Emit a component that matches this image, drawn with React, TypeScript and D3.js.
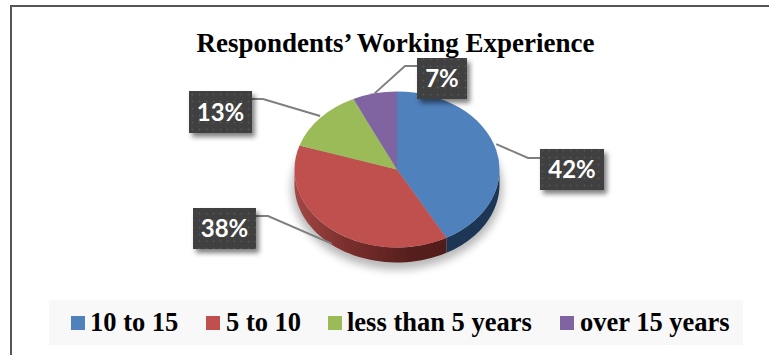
import React from "react";
import * as d3 from "d3";

const categories = ["10 to 15", "5 to 10", "less than 5 years", "over 15 years"];
const shares = [42, 38, 13, 7];
const topColors = ["#4f81bd", "#c0504d", "#9bbb59", "#8064a2"];
const sideFills = ["#1d3655", "url(#redSide)", "#5d7035", "#4c3b61"];
const chartTitle = "Respondents’ Working Experience";

const WIDTH = 769;
const HEIGHT = 355;
const CX = 397;
const CY = 169.5;
const RX = 102.5;
const RY = 78;
const DEPTH = 15;

// Callout box and elbow geometry per slice: box rect, elbow x, elbow y, box side the leader enters.
const callouts = [
  { x: 540, y: 149, w: 64, h: 41, elbowX: 528, lineY: 158, side: "left", drop: -6 },
  { x: 193, y: 208, w: 63, h: 41, elbowX: 268, lineY: 216, side: "right", drop: DEPTH - 1 },
  { x: 189, y: 91, w: 63, h: 42, elbowX: 263, lineY: 99, side: "right", drop: -2 },
  { x: 417, y: 58, w: 50, h: 41, elbowX: 405, lineY: 66, side: "left", drop: 0 },
];

// Legend entries: swatch left edge and text left edge.
const legendSwatchX = [71, 206, 328, 560];
const legendTextX = [90, 226, 347, 580];

const pieGen = d3.pie<number>().sort(null).value((d) => d);
const slices = pieGen(shares);

const arcGen = d3
  .arc<d3.PieArcDatum<number>>()
  .innerRadius(0)
  .outerRadius(1);

// Maps a clockwise-from-top angle onto the tilted rim of the disc.
const rim = (a: number, dy = 0): [number, number] => [
  CX + RX * Math.sin(a),
  CY - RY * Math.cos(a) + dy,
];

// Outer wall of one slice, limited to the half of the rim that faces the viewer.
function wallPath(start: number, end: number): string | null {
  const a0 = Math.max(start, Math.PI / 2);
  const a1 = Math.min(end, (3 * Math.PI) / 2);
  if (a1 <= a0) return null;
  const steps = d3.range(0, 41).map((i) => a0 + ((a1 - a0) * i) / 40);
  const upper = steps.map((a) => rim(a));
  const lower = steps.map((a) => rim(a, DEPTH)).reverse();
  return d3.line()([...upper, ...lower]) + "Z";
}

export default function App() {
  return (
    <svg
      width={WIDTH}
      height={HEIGHT}
      viewBox={`0 0 ${WIDTH} ${HEIGHT}`}
      style={{ position: "absolute", left: 0, top: 0, background: "#fff" }}
    >
      <defs>
        <linearGradient id="redSide" gradientUnits="userSpaceOnUse" x1={CX - RX} x2={CX + 60} y1="0" y2="0">
          <stop offset="0" stopColor="#a34845" />
          <stop offset="0.3" stopColor="#7d302e" />
          <stop offset="0.7" stopColor="#561f1d" />
          <stop offset="1" stopColor="#4f1c1a" />
        </linearGradient>
        <filter id="discShadow" x="-30%" y="-30%" width="160%" height="160%">
          <feGaussianBlur stdDeviation="4" />
        </filter>
        <filter id="boxShadow" x="-30%" y="-30%" width="170%" height="170%">
          <feDropShadow dx="3" dy="4" stdDeviation="2.5" floodColor="#000" floodOpacity="0.5" />
        </filter>
        <pattern id="boxDots" width="7" height="7" patternUnits="userSpaceOnUse">
          <rect width="7" height="7" fill="#3f3f3f" />
          <circle cx="3.5" cy="3.5" r="1" fill="#565656" />
        </pattern>
      </defs>

      {/* frame: only the top and left rules are visible */}
      <path d={`M11 355V6H${WIDTH}`} fill="none" stroke="#555" strokeWidth={2} />

      <text
        x={395.5}
        y={52}
        textAnchor="middle"
        fontFamily="'Liberation Serif', serif"
        fontWeight="bold"
        fontSize={27}
        fill="#000"
      >
        {chartTitle}
      </text>

      {/* soft shadow under the disc */}
      <ellipse
        cx={CX}
        cy={CY + DEPTH + 4}
        rx={RX + 3}
        ry={RY + 3}
        fill="#000"
        opacity={0.28}
        filter="url(#discShadow)"
      />

      {/* walls */}
      {slices.map((s, i) => {
        const d = wallPath(s.startAngle, s.endAngle);
        return d ? <path key={i} d={d} fill={sideFills[i]} /> : null;
      })}

      {/* top face: a unit pie squashed into an ellipse */}
      <g transform={`translate(${CX},${CY}) scale(${RX},${RY})`}>
        {slices.map((s, i) => (
          <path key={i} d={arcGen(s) as string} fill={topColors[i]} />
        ))}
      </g>

      {/* leaders */}
      {slices.map((s, i) => {
        const c = callouts[i];
        const mid = (s.startAngle + s.endAngle) / 2;
        const [ax, ay] = rim(mid, c.drop);
        const boxEdge = c.side === "left" ? c.x : c.x + c.w;
        return (
          <path
            key={i}
            d={d3.line()([
              [ax, ay],
              [c.elbowX, c.lineY],
              [boxEdge, c.lineY],
            ]) as string}
            fill="none"
            stroke="#7f7f7f"
            strokeWidth={2}
          />
        );
      })}

      {/* value callouts */}
      {slices.map((s, i) => {
        const c = callouts[i];
        return (
          <g key={i}>
            <rect x={c.x} y={c.y} width={c.w} height={c.h} fill="url(#boxDots)" filter="url(#boxShadow)" />
            <text
              x={c.x + c.w / 2}
              y={c.y + c.h / 2 + 8.5}
              textAnchor="middle"
              fontFamily="Lato, sans-serif"
              fontWeight="bold"
              fontSize={24}
              fill="#fff"
            >
              {`${s.data}%`}
            </text>
          </g>
        );
      })}

      {/* legend */}
      <rect x={49} y={300} width={694} height={45} fill="#f8f8f8" />
      {categories.map((name, i) => (
        <g key={name}>
          <rect x={legendSwatchX[i]} y={316} width={14} height={14} fill={topColors[i]} />
          <text
            x={legendTextX[i]}
            y={331}
            fontFamily="'Liberation Serif', serif"
            fontWeight="bold"
            fontSize={26.5}
            fill="#000"
          >
            {name}
          </text>
        </g>
      ))}
    </svg>
  );
}
